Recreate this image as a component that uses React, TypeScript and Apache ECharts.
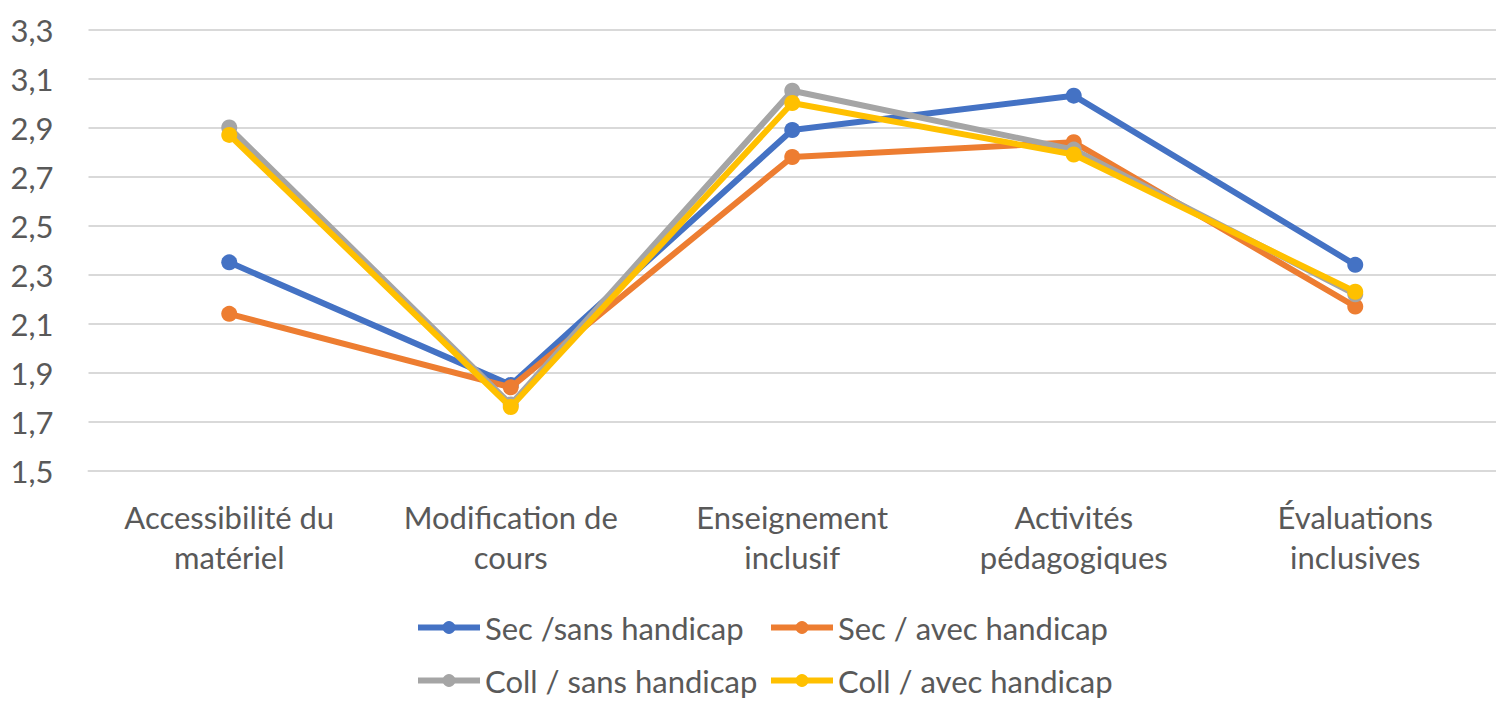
import React, { useEffect, useRef } from "react";
import * as echarts from "echarts";

const categories = [
  "Accessibilité du\nmatériel",
  "Modification de\ncours",
  "Enseignement\ninclusif",
  "Activités\npédagogiques",
  "Évaluations\ninclusives",
];
const secSans = [2.35, 1.85, 2.89, 3.03, 2.34];
const secAvec = [2.14, 1.84, 2.78, 2.84, 2.17];
const collSans = [2.9, 1.77, 3.05, 2.81, 2.22];
const collAvec = [2.87, 1.76, 3.0, 2.79, 2.23];
const seriesNames = [
  "Sec /sans handicap",
  "Sec / avec handicap",
  "Coll / sans handicap",
  "Coll / avec handicap",
];
const colors = ["#4472C4", "#ED7D31", "#A5A5A5", "#FFC000"];
const yMin = 1.5;
const yMax = 3.3;

const FONT = "Lato";
const FS = 31;

// legend slots: [left, top]
const legendSlots = [
  [415, 612],
  [768, 612],
  [415, 665],
  [768, 665],
];

export default function App() {
  const ref = useRef<HTMLDivElement>(null);
  useEffect(() => {
    if (!ref.current) return;
    const chart = echarts.init(ref.current, null, { renderer: "svg" });
    const data = [secSans, secAvec, collSans, collAvec];
    chart.setOption({
      animation: false,
      backgroundColor: "#ffffff",
      grid: { left: 88.5, right: -7.5, top: 29.5, bottom: 231.3, containLabel: false },
      xAxis: {
        type: "category",
        data: categories,
        boundaryGap: true,
        axisLine: { show: true, lineStyle: { color: "#D9D9D9", width: 2 } },
        axisTick: { show: false },
        axisLabel: {
          color: "#595959",
          fontFamily: FONT,
          fontSize: FS,
          lineHeight: 40,
          margin: 26,
          interval: 0,
        },
      },
      yAxis: {
        type: "value",
        min: yMin,
        max: yMax,
        interval: 0.1,
        axisLine: { show: false },
        axisTick: { show: false },
        axisLabel: {
          color: "#595959",
          fontFamily: FONT,
          fontSize: FS,
          margin: 35,
          formatter: (v: number) =>
            Math.round(v * 10) % 2 === 1 ? v.toFixed(1).replace(".", ",") : "",
        },
        splitLine: {
          show: true,
          lineStyle: { color: ["#D9D9D9", "rgba(0,0,0,0)"], width: 2 },
        },
      },
      legend: seriesNames.map((name, i) => ({
        left: legendSlots[i][0],
        top: legendSlots[i][1],
        itemWidth: 62,
        itemHeight: 16,
        padding: 0,
        data: [name],
        lineStyle: { width: 6 },
        textStyle: { color: "#595959", fontFamily: FONT, fontSize: FS, lineHeight: 30 },
      })),
      series: data.map((d, i) => ({
        name: seriesNames[i],
        type: "line",
        data: d,
        color: colors[i],
        symbol: "circle",
        symbolSize: 16,
        lineStyle: { width: 6, color: colors[i] },
        itemStyle: { color: colors[i] },
        z: 2 + i,
      })),
    });
    return () => chart.dispose();
  }, []);
  return (
    <div
      ref={ref}
      style={{ position: "absolute", left: 0, top: 0, width: 1496, height: 702 }}
    />
  );
}
